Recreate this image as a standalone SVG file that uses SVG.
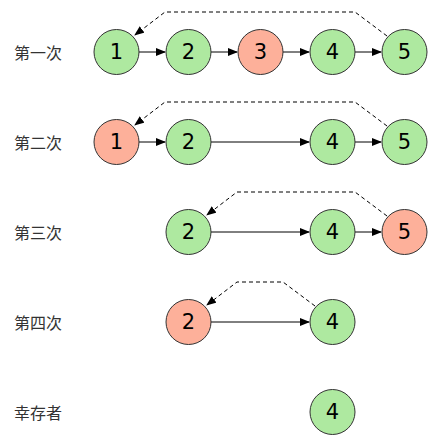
<svg xmlns="http://www.w3.org/2000/svg" width="438" height="445" viewBox="0 0 438 445">
<defs>
<marker id="ah" markerWidth="10" markerHeight="8" refX="9" refY="4" orient="auto" markerUnits="userSpaceOnUse">
<path d="M0,0 L10,4 L0,8 Z" fill="#000"/>
</marker>
<style>
.g circle{fill:#aee9a0;stroke:#333;stroke-width:1}
.r circle{fill:#fdb09a;stroke:#333;stroke-width:1}
.n text{font-family:"DejaVu Sans",sans-serif;font-size:21px;fill:#000;text-anchor:middle;dominant-baseline:central}
.lbl{font-family:"Noto Sans CJK SC",sans-serif;font-size:16px;fill:#333;dominant-baseline:central}
.s{stroke:#000;stroke-width:1;fill:none;marker-end:url(#ah)}
.d{stroke:#000;stroke-width:1;fill:none;stroke-dasharray:4,3;marker-end:url(#ah)}
</style>
</defs>
<rect width="438" height="445" fill="#fff"/>
<g id="labels">
<text class="lbl" x="14" y="52">第一次</text>
<text class="lbl" x="14" y="142">第二次</text>
<text class="lbl" x="14" y="232">第三次</text>
<text class="lbl" x="14" y="322">第四次</text>
<text class="lbl" x="14" y="412">幸存者</text>
</g>
<g id="connectors">
<line class="s" x1="139" y1="52" x2="165" y2="52"/>
<line class="s" x1="211" y1="52" x2="237" y2="52"/>
<line class="s" x1="283" y1="52" x2="309" y2="52"/>
<line class="s" x1="355" y1="52" x2="381" y2="52"/>
<polyline class="d" points="387,36 355,12 165,12 135,35"/>
<line class="s" x1="139" y1="142" x2="165" y2="142"/>
<line class="s" x1="211" y1="142" x2="309" y2="142"/>
<line class="s" x1="355" y1="142" x2="381" y2="142"/>
<polyline class="d" points="387,126 355,102 165,102 135,125"/>
<line class="s" x1="211" y1="232" x2="309" y2="232"/>
<line class="s" x1="355" y1="232" x2="381" y2="232"/>
<polyline class="d" points="387,216 355,192 237,192 207,215"/>
<line class="s" x1="211" y1="322" x2="309" y2="322"/>
<polyline class="d" points="315,306 283,282 237,282 207,305"/>
</g>
<g id="r1n1" class="n g"><circle cx="116.5" cy="52" r="22.5"/><text x="116.5" y="52">1</text></g>
<g id="r1n2" class="n g"><circle cx="188.5" cy="52" r="22.5"/><text x="188.5" y="52">2</text></g>
<g id="r1n3" class="n r"><circle cx="260.5" cy="52" r="22.5"/><text x="260.5" y="52">3</text></g>
<g id="r1n4" class="n g"><circle cx="332.5" cy="52" r="22.5"/><text x="332.5" y="52">4</text></g>
<g id="r1n5" class="n g"><circle cx="404.5" cy="52" r="22.5"/><text x="404.5" y="52">5</text></g>
<g id="r2n1" class="n r"><circle cx="116.5" cy="142" r="22.5"/><text x="116.5" y="142">1</text></g>
<g id="r2n2" class="n g"><circle cx="188.5" cy="142" r="22.5"/><text x="188.5" y="142">2</text></g>
<g id="r2n4" class="n g"><circle cx="332.5" cy="142" r="22.5"/><text x="332.5" y="142">4</text></g>
<g id="r2n5" class="n g"><circle cx="404.5" cy="142" r="22.5"/><text x="404.5" y="142">5</text></g>
<g id="r3n2" class="n g"><circle cx="188.5" cy="232" r="22.5"/><text x="188.5" y="232">2</text></g>
<g id="r3n4" class="n g"><circle cx="332.5" cy="232" r="22.5"/><text x="332.5" y="232">4</text></g>
<g id="r3n5" class="n r"><circle cx="404.5" cy="232" r="22.5"/><text x="404.5" y="232">5</text></g>
<g id="r4n2" class="n r"><circle cx="188.5" cy="322" r="22.5"/><text x="188.5" y="322">2</text></g>
<g id="r4n4" class="n g"><circle cx="332.5" cy="322" r="22.5"/><text x="332.5" y="322">4</text></g>
<g id="r5n4" class="n g"><circle cx="332.5" cy="412" r="22.5"/><text x="332.5" y="412">4</text></g>
</svg>
